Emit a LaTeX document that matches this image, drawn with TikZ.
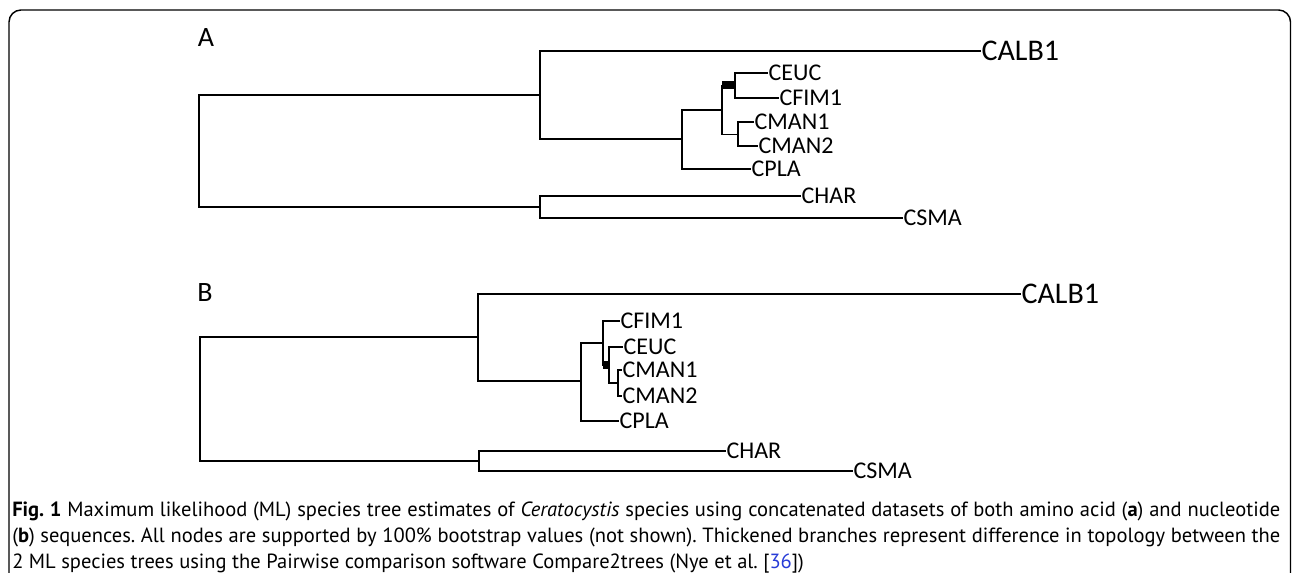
\documentclass[tikz,border=0pt]{standalone}
\usepackage{fontspec}
\setmainfont{Carlito}
\newfontfamily\capfont{PT Sans}
\usetikzlibrary{positioning}
\definecolor{linkblue}{RGB}{40,60,215}

\begin{document}
\begin{tikzpicture}[x=0.75pt,y=-0.75pt,
    branch/.style={line width=1.4pt,line cap=rect},
    thickbranch/.style={line width=6pt},
    leaf/.style={anchor=west,inner xsep=1pt,inner ysep=0pt,font=\fontsize{18}{20}\selectfont},
    bigleaf/.style={anchor=west,inner xsep=1pt,inner ysep=0pt,font=\fontsize{22.5}{24}\selectfont},
    panel/.style={inner sep=0pt,font=\fontsize{21}{24}\selectfont}]
    \useasboundingbox (0,0) rectangle (1292,573);
    \clip (0,0) rectangle (1292,573);
    \draw[line width=1.1pt,rounded corners=9pt] (9,10) rectangle (1290.5,620);

    % tree A (amino acid)
    \node[panel] (labA) at (206,38) {A};
    \coordinate (rA) at (199,151);
    \coordinate (a1) at (540,95);
    \coordinate (a2) at (682,139);
    \coordinate (a3) at (722,110);
    \coordinate (a4) at (735,85.5);
    \coordinate (a5) at (738,134.5);
    \coordinate (a6) at (540,207);
    \node[bigleaf] (calbA) at (980,51) {CALB1};
    \node[leaf] (ceucA) at (767,73) {CEUC};
    \node[leaf] (cfimA) at (778,98) {CFIM1};
    \node[leaf] (cmanoneA) at (753,122) {CMAN1};
    \node[leaf] (cmantwoA) at (757,146) {CMAN2};
    \node[leaf] (cplaA) at (750,169) {CPLA};
    \node[leaf] (charA) at (800,196) {CHAR};
    \node[leaf] (csmaA) at (902,218) {CSMA};
    \draw[branch] (rA) |- (a1);
    \draw[branch] (rA) |- (a6);
    \draw[branch] (a1) |- (calbA.west);
    \draw[branch] (a1) |- (a2);
    \draw[branch] (a2) |- (a3);
    \draw[branch] (a2) |- (cplaA.west);
    \draw[branch] (a3) |- (a4);
    \draw[branch] (a3) |- (a5);
    \draw[thickbranch] (a3 |- a4) -- (a4);
    \draw[branch] (a4) |- (ceucA.west);
    \draw[branch] (a4) |- (cfimA.west);
    \draw[branch] (a5) |- (cmanoneA.west);
    \draw[branch] (a5) |- (cmantwoA.west);
    \draw[branch] (a6) |- (charA.west);
    \draw[branch] (a6) |- (csmaA.west);

    % tree B (nucleotide)
    \node[panel] (labB) at (205,293) {B};
    \coordinate (rB) at (200,399);
    \coordinate (b1) at (478,337);
    \coordinate (b2) at (581,381);
    \coordinate (b3) at (603,343);
    \coordinate (b4) at (609,365);
    \coordinate (b5) at (618,383);
    \coordinate (b6) at (479,461);
    \node[bigleaf] (calbB) at (1020,294) {CALB1};
    \node[leaf] (cfimB) at (619,321) {CFIM1};
    \node[leaf] (ceucB) at (622,347) {CEUC};
    \node[leaf] (cmanoneB) at (621,370) {CMAN1};
    \node[leaf] (cmantwoB) at (621,396) {CMAN2};
    \node[leaf] (cplaB) at (618,421) {CPLA};
    \node[leaf] (charB) at (725,451) {CHAR};
    \node[leaf] (csmaB) at (852,471) {CSMA};
    \draw[branch] (rB) |- (b1);
    \draw[branch] (rB) |- (b6);
    \draw[branch] (b1) |- (calbB.west);
    \draw[branch] (b1) |- (b2);
    \draw[branch] (b2) |- (b3);
    \draw[branch] (b2) |- (cplaB.west);
    \draw[branch] (b3) |- (cfimB.west);
    \draw[branch] (b3) |- (b4);
    \draw[thickbranch] (b3 |- b4) -- (b4);
    \draw[branch] (b4) |- (ceucB.west);
    \draw[branch] (b4) |- (b5);
    \draw[branch] (b5) |- (cmanoneB.west);
    \draw[branch] (b5) |- (cmantwoB.west);
    \draw[branch] (b6) |- (charB.west);
    \draw[branch] (b6) |- (csmaB.west);

    % caption
    \node[anchor=north west,inner sep=0pt,text width=951pt,align=justify,
          font=\capfont\frenchspacing\fontsize{15.4}{19.5}\selectfont] (caption) at (12,502)
      {\textbf{Fig. 1} Maximum likelihood (ML) species tree estimates of \textit{Ceratocystis} species using concatenated datasets of both amino acid (\textbf{a}) and nucleotide\linebreak
       (\textbf{b}) sequences. All nodes are supported by 100\% bootstrap values (not shown). Thickened branches represent difference in topology between the\linebreak
       2 ML species trees using the Pairwise comparison software Compare2trees (Nye et al. [\textcolor{linkblue}{36}])};
\end{tikzpicture}
\end{document}
